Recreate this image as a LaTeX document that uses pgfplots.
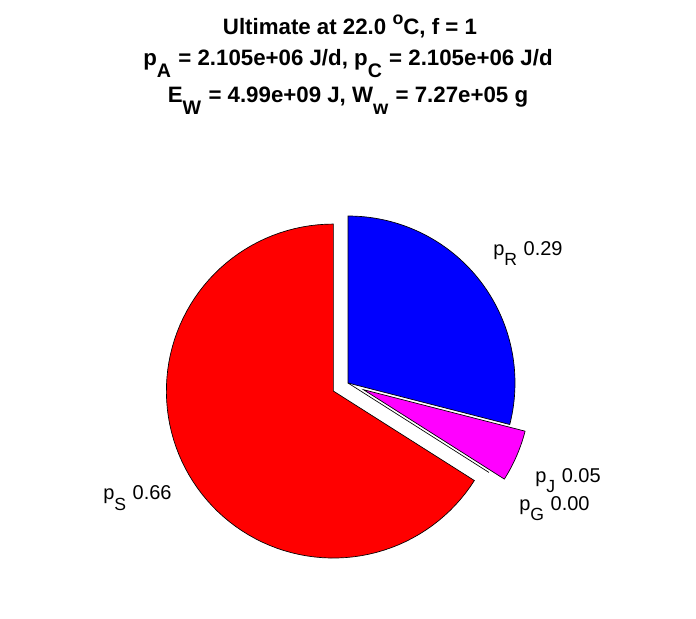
\documentclass[border=0pt]{standalone}
\usepackage{pgfplots}
\pgfplotsset{compat=1.18}
\usepackage{graphicx}
\usepackage{fontspec}
\setmainfont{Liberation Sans}

\definecolor{mblue}{RGB}{0,0,255}
\definecolor{mmag}{RGB}{255,0,255}
\definecolor{mred}{RGB}{255,0,0}

% subscript / superscript the way MATLAB's tex interpreter sets them
\newcommand\sub[1]{\raisebox{-0.5em}{\scalebox{0.88}{#1}}\kern0.05em\relax}
\newcommand\degsup{\raisebox{0.45em}{\scalebox{0.8}{o}}}

% pie geometry in pixel units of the reference
\def\cx{348}
\def\cy{235}
\def\R{167}

% \slice{fraction}{explode 0/1}{colour}; slices run clockwise from the top
\newcommand\slice[3]{%
  \pgfmathsetmacro\aA{90-360*\cum}%
  \pgfmathsetmacro\aB{\aA-360*#1}%
  \pgfmathsetmacro\aM{(\aA+\aB)/2}%
  \pgfmathsetmacro\ox{\cx+#2*0.1*\R*cos(\aM)}%
  \pgfmathsetmacro\oy{\cy+#2*0.1*\R*sin(\aM)}%
  \ifdim #1pt=0pt
    \pgfmathsetmacro\ex{\ox+\R*cos(\aA)}%
    \pgfmathsetmacro\ey{\oy+\R*sin(\aA)}%
    \edef\doit{\noexpand\addplot[black, line width=0.5pt] coordinates {(\ox,\oy) (\ex,\ey)};}%
  \else
    \edef\doit{\noexpand\addplot[fill=#3, draw=black, line width=0.5pt, domain=\aB:\aA, samples=90]
      ({\ox+\R*cos(x)},{\oy+\R*sin(x)}) -- (axis cs:\ox,\oy) -- cycle;}%
  \fi
  \doit
  \pgfmathsetmacro\newcum{\cum+#1}%
  \xdef\cum{\newcum}%
}

\begin{document}
\begin{tikzpicture}
\begin{axis}[
    width=522pt, height=463.5pt, scale only axis,
    xmin=0, xmax=696, ymin=0, ymax=618,
    hide axis, clip=false,
  ]
  \path (rel axis cs:0,0) rectangle (rel axis cs:1,1);

  \xdef\cum{0}
  \slice{0.29}{0}{mblue}  % p_R
  \slice{0.05}{1}{mmag}   % p_J
  \slice{0.00}{0}{white}  % p_G
  \slice{0.66}{1}{mred}   % p_S

  % title
  \begin{scope}[every node/.style={anchor=base, font=\bfseries\fontsize{16.7}{20}\selectfont}]
    \node at (axis cs:350,583) {Ultimate at 22.0 \degsup C, f = 1};
    \node at (axis cs:348,552) {p\sub{A} = 2.105e+06 J/d, p\sub{C} = 2.105e+06 J/d};
    \node at (axis cs:348,515) {E\sub{W} = 4.99e+09 J, W\sub{w} = 7.27e+05 g};
  \end{scope}

  % slice labels
  \begin{scope}[every node/.style={anchor=base west, inner sep=0pt, font=\fontsize{15}{17}\selectfont}]
    \node at (axis cs:493,362) {p\sub{R} 0.29};
    \node at (axis cs:535,136) {p\sub{J} 0.05};
    \node at (axis cs:519,108) {p\sub{G} 0.00};
    \node at (axis cs:103,118) {p\sub{S} 0.66};
  \end{scope}
\end{axis}
\end{tikzpicture}
\end{document}
